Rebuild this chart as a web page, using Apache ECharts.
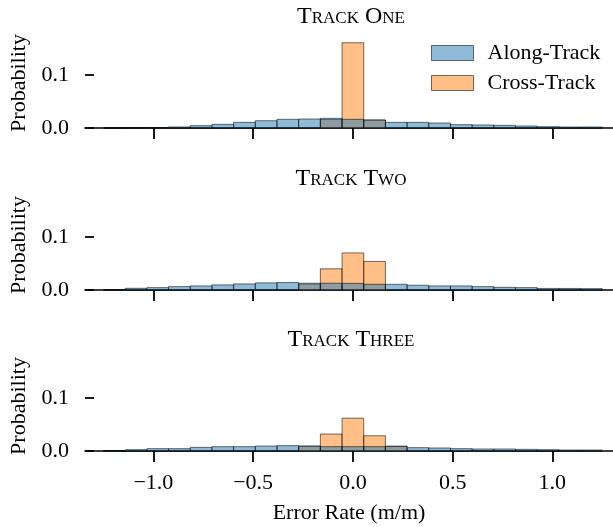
<!DOCTYPE html>
<html>
<head>
<meta charset="utf-8">
<script src="https://cdn.jsdelivr.net/npm/echarts@6/dist/echarts.min.js"></script>
<style>
  html, body { margin: 0; padding: 0; background: #fff; }
  #chart { width: 613px; height: 527px; }
</style>
</head>
<body>
<div id="chart"></div>
<script>
// bin centres (23 bins between -1.25 and 1.25)
const binCenters = [
  -1.1957, -1.0870, -0.9783, -0.8696, -0.7609, -0.6522, -0.5435, -0.4348,
  -0.3261, -0.2174, -0.1087, 0.0, 0.1087, 0.2174, 0.3261, 0.4348,
  0.5435, 0.6522, 0.7609, 0.8696, 0.9783, 1.0870, 1.1957
];
const binWidth = 0.1087;

const trackTitles = ['Track One', 'Track Two', 'Track Three'];

const alongOne = [0, 0.0002, 0.001, 0.002, 0.0044, 0.0069, 0.0107, 0.0138, 0.0164, 0.017, 0.0182, 0.0164,
  0.0151, 0.0107, 0.0107, 0.0094, 0.0063, 0.0057, 0.005, 0.0038, 0.0025, 0.0019, 0.0019];
const crossOne = [0, 0, 0, 0, 0, 0, 0, 0, 0, 0, 0.016, 0.161,
  0.015, 0, 0, 0, 0, 0, 0, 0, 0, 0, 0];

const alongTwo = [0.0006, 0.0032, 0.0045, 0.0064, 0.0077, 0.0096, 0.0115, 0.0135, 0.0141, 0.0128, 0.0128, 0.0125,
  0.0108, 0.0108, 0.009, 0.0077, 0.0077, 0.0064, 0.0051, 0.0045, 0.003, 0.0029, 0.0026];
const crossTwo = [0, 0, 0, 0, 0, 0, 0, 0, 0, 0.011, 0.040, 0.070,
  0.054, 0, 0, 0, 0, 0, 0, 0, 0, 0, 0];

const alongThree = [0.0003, 0.0025, 0.0044, 0.0044, 0.0069, 0.0082, 0.0082, 0.0094, 0.0101, 0.0094, 0.0082, 0.0082,
  0.0082, 0.0088, 0.0063, 0.0057, 0.0044, 0.0038, 0.0038, 0.0031, 0.0025, 0.0019, 0.0019];
const crossThree = [0, 0, 0, 0, 0, 0, 0, 0, 0, 0.009, 0.032, 0.062,
  0.0288, 0.009, 0, 0, 0, 0, 0, 0, 0, 0, 0];

const xTicks = [-1.0, -0.5, 0.0, 0.5, 1.0];
const yTicks = [0.0, 0.1];

const alongData = [alongOne, alongTwo, alongThree];
const crossData = [crossOne, crossTwo, crossThree];

const FONT = '"Liberation Serif", "DejaVu Serif", serif';
const BLUE = 'rgba(31,119,180,0.5)';
const ORANGE = 'rgba(255,127,14,0.5)';
const EDGE = 'rgba(0,0,0,0.55)';

const gridTops = [38, 200, 361];
const gridHeight = 90;

function renderBar(color) {
  return function (params, api) {
    const c = api.value(0);
    const v = api.value(1);
    const p0 = api.coord([c - binWidth / 2, v]);
    const p1 = api.coord([c + binWidth / 2, 0]);
    return {
      type: 'rect',
      shape: { x: p0[0], y: p0[1], width: p1[0] - p0[0], height: p1[1] - p0[1] },
      style: { fill: color, stroke: EDGE, lineWidth: 1 }
    };
  };
}

const grids = [], xAxes = [], yAxes = [], series = [], titles = [];
for (let i = 0; i < 3; i++) {
  grids.push({ left: 81, right: 0, top: gridTops[i], height: gridHeight });
  const last = i === 2;
  xAxes.push({
    type: 'value', gridIndex: i, min: -1.343, max: 1.304,
    axisLine: { show: true, onZero: false, lineStyle: { color: '#000', width: 1.6 } },
    axisTick: { show: true, customValues: xTicks, length: 11, lineStyle: { color: '#000', width: 1.8 } },
    axisLabel: {
      show: last, customValues: xTicks, margin: 21, fontSize: 22, color: '#000', fontFamily: FONT,
      formatter: v => (v < 0 ? '\u2212' : '') + Math.abs(v).toFixed(1)
    },
    splitLine: { show: false },
    name: last ? 'Error Rate (m/m)' : '', nameLocation: 'middle', nameGap: 51,
    nameTextStyle: { fontSize: 22, color: '#000', fontFamily: FONT }
  });
  yAxes.push({
    type: 'value', gridIndex: i, min: 0, max: 0.17,
    axisLine: { show: false, onZero: false },
    axisTick: { show: true, inside: true, customValues: yTicks, length: 9, lineStyle: { color: '#000', width: 1.8 } },
    axisLabel: {
      customValues: yTicks, margin: 16, fontSize: 22, color: '#000', fontFamily: FONT,
      formatter: v => v.toFixed(1)
    },
    splitLine: { show: false },
    name: 'Probability', nameLocation: 'middle', nameGap: 55,
    nameTextStyle: { fontSize: 22, color: '#000', fontFamily: FONT }
  });
  series.push({
    name: 'Cross-Track', type: 'custom', xAxisIndex: i, yAxisIndex: i,
    itemStyle: { color: ORANGE },
    renderItem: renderBar(ORANGE),
    data: binCenters.map((c, k) => [c, crossData[i][k]])
  });
  series.push({
    name: 'Along-Track', type: 'custom', xAxisIndex: i, yAxisIndex: i,
    itemStyle: { color: BLUE },
    renderItem: renderBar(BLUE),
    data: binCenters.map((c, k) => [c, alongData[i][k]])
  });
  titles.push({
    text: trackTitles[i], left: 351, textAlign: 'center', top: gridTops[i] - 33, padding: 0,
    textStyle: { fontSize: 24, fontWeight: 'normal', fontStyle: 'normal small-caps', color: '#000', fontFamily: FONT }
  });
}

const chart = echarts.init(document.getElementById('chart'));
chart.setOption({
  animation: false,
  title: titles,
  legend: {
    orient: 'vertical', left: 431, top: 42, padding: 0,
    itemWidth: 42, itemHeight: 15, itemGap: 8, icon: 'rect',
    textStyle: { fontSize: 22, color: '#000', fontFamily: FONT, padding: [0, 0, 0, 9] },
    data: [
      { name: 'Along-Track', itemStyle: { color: BLUE, borderColor: EDGE, borderWidth: 1 } },
      { name: 'Cross-Track', itemStyle: { color: ORANGE, borderColor: EDGE, borderWidth: 1 } }
    ]
  },
  grid: grids,
  xAxis: xAxes,
  yAxis: yAxes,
  series: series
});
</script>
</body>
</html>
